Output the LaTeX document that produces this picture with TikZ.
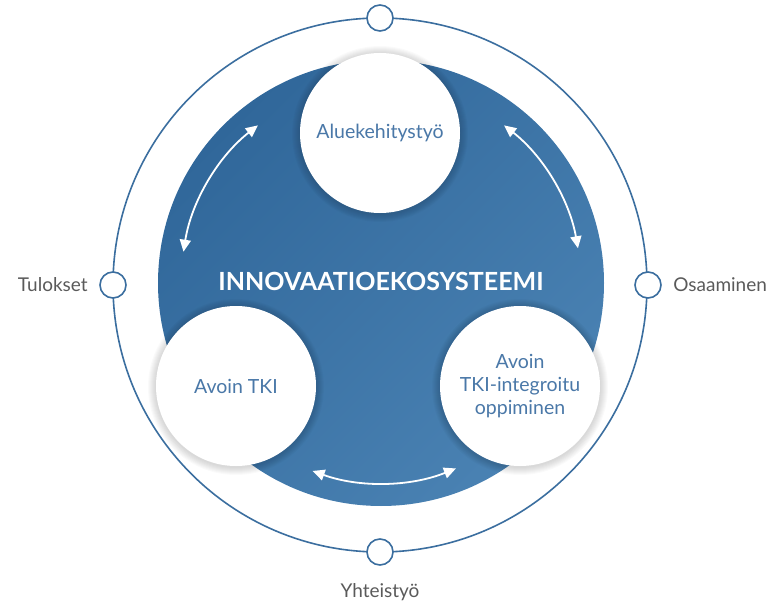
\documentclass[tikz,border=0pt]{standalone}
\usepackage{fontspec}
\setmainfont{Lato}
\usetikzlibrary{positioning,arrows.meta}
\definecolor{ringblue}{HTML}{3B6E9F}
\definecolor{ecodark}{HTML}{30679A}
\definecolor{ecolight}{HTML}{4A82B3}
\definecolor{labelblue}{HTML}{4A78A8}
\definecolor{labelgrey}{HTML}{5A5A5A}
\tikzset{
  knot/.style={circle, draw=ringblue, line width=1.6pt, fill=white, minimum size=26pt, inner sep=0pt},
  outlabel/.style={text=labelgrey, font=\fontsize{19}{22}\selectfont},
  areanode/.style={circle, fill=white, minimum size=160pt, inner sep=2pt, align=center,
    text=labelblue, font=\fontsize{19.5}{23}\selectfont},
  twoway/.style={white, line width=1.8pt, {Triangle[length=12pt,width=11pt]}-{Triangle[length=12pt,width=11pt]}},
}

\begin{document}
\begin{tikzpicture}[x=1pt,y=-1pt]
  \useasboundingbox (0,0) rectangle (780,602);
  % outer ring
  \coordinate (mid) at (380,285);
  \draw[ringblue, line width=1.6pt] (mid) circle[radius=267];
  % ecosystem disc
  \coordinate (eco) at (381,283);
  \shade[top color=ecodark, bottom color=ecolight, shading angle=45] (eco) circle[radius=223];
  \node[text=white, font=\bfseries\fontsize{25}{28}\selectfont] (ecotitle) at (381,281) {INNOVAATIOEKOSYSTEEMI};
  % soft shadows
  \foreach \cx/\cy in {380/133, 236/386, 520/386}
    \foreach \i in {1,...,8}
      \fill[black, opacity=0.018] (\cx,\cy+1) circle[radius=80+\i];
  \node[areanode] (alue) at (380,133) {Aluekehitystyö};
  \node[areanode] (tki) at (236,386) {Avoin TKI};
  \node[areanode] (oppi) at (520,386) {Avoin\\TKI-integroitu\\oppiminen};
  % arrows between the areas
  \path (eco) ++(-171:200) coordinate (tkiA);
  \path (eco) ++(-52:200) coordinate (alueA);
  \path (eco) ++(110:200) coordinate (tkiB);
  \draw[twoway] (tkiA) arc[start angle=-171, end angle=-128, radius=200];
  \draw[twoway] (alueA) arc[start angle=-52, end angle=-10, radius=200];
  \draw[twoway] (tkiB) arc[start angle=110, end angle=68, radius=200];
  % knots on the ring
  \node[knot] (top) at (380,18) {};
  \node[knot] (left) at (113,285) {};
  \node[knot] (right) at (648,285) {};
  \node[knot] (bottom) at (380,552) {};
  \node[outlabel, left=8pt of left] (tulokset) {Tulokset};
  \node[outlabel, right=8pt of right] (osaaminen) {Osaaminen};
  \node[outlabel, below=14pt of bottom] (yhteistyo) {Yhteistyö};
\end{tikzpicture}
\end{document}
